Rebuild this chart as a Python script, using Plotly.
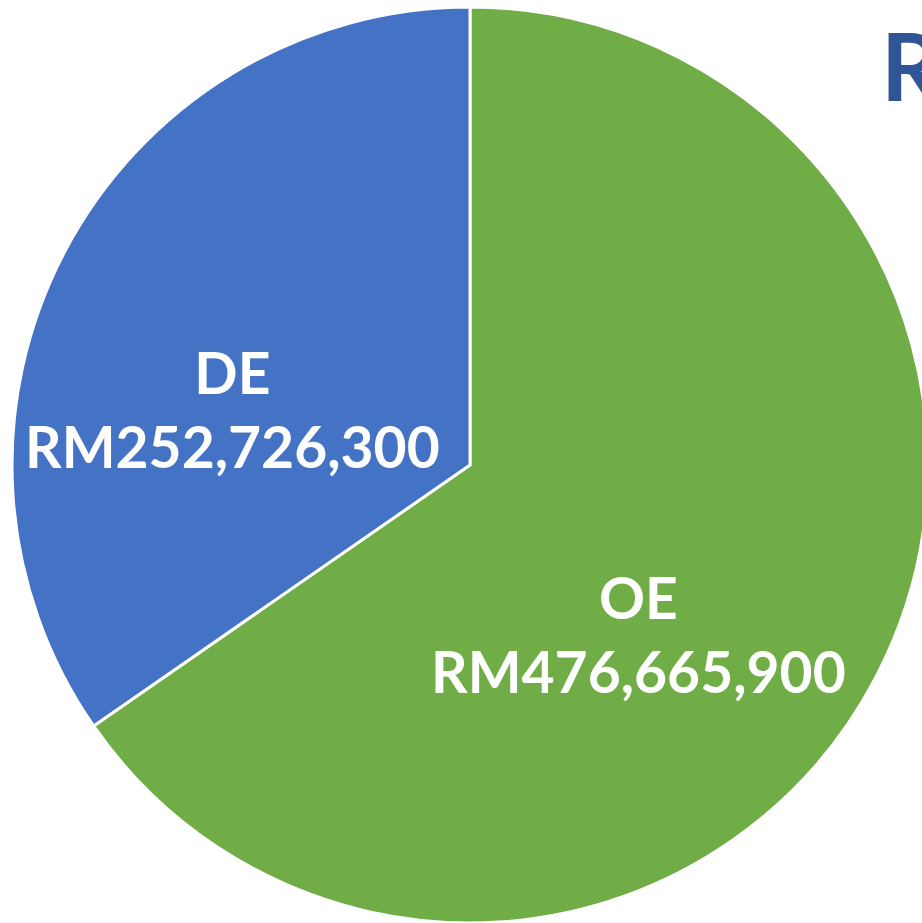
import plotly.graph_objects as go

labels = ["OE", "DE"]
values = [476665900, 252726300]
colors = ["#70AD47", "#4472C4"]

W, H = 930, 923

fig = go.Figure(
    go.Pie(
        labels=labels,
        values=values,
        sort=False,
        direction="clockwise",
        rotation=0,
        marker=dict(colors=colors, line=dict(color="white", width=3)),
        textinfo="none",
        hoverinfo="label+value",
        domain=dict(x=[12 / W, 928 / W], y=[0, 1 - 7 / H]),
        showlegend=False,
    )
)

# label positions in pixels (centre of each two-line label)
label_pos = {"DE": (232, 409), "OE": (638, 634)}
for lab, val in zip(labels, values):
    px, py = label_pos[lab]
    fig.add_annotation(
        x=px / W, y=1 - py / H, xref="paper", yref="paper",
        text=f"{lab}<br>RM{val:,}",
        showarrow=False, xanchor="center", yanchor="middle",
        font=dict(family="Lato", size=57, color="white", weight="bold"),
    )

# cut-off title at the top right
fig.add_annotation(
    x=879 / W, y=1 - 6 / H, xref="paper", yref="paper",
    text="R", showarrow=False, xanchor="left", yanchor="top",
    font=dict(family="Lato", size=94, color="#2F5597", weight="bold"),
)

fig.update_layout(
    width=W, height=H,
    margin=dict(l=0, r=0, t=0, b=0),
    paper_bgcolor="white",
)

fig.write_html(
    "out.html",
    config={"displayModeBar": False},
    post_script="document.body.style.margin='0';document.body.style.overflow='hidden';",
)
